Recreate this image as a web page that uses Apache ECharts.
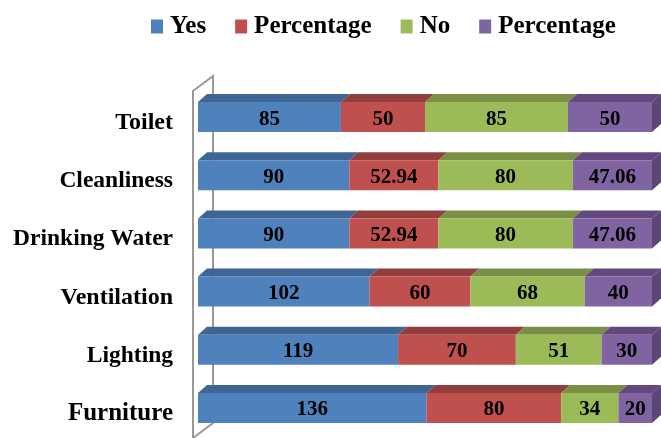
<!DOCTYPE html>
<html>
<head>
<meta charset="utf-8">
<title>Facilities</title>
<script src="https://cdn.jsdelivr.net/npm/echarts@6/dist/echarts.min.js"></script>
<style>
  html, body { margin: 0; padding: 0; background: #fff; }
  #chart { width: 661px; height: 438px; }
</style>
</head>
<body>
<div id="chart"></div>
<script>
const categories = ['Toilet', 'Cleanliness', 'Drinking Water', 'Ventilation', 'Lighting', 'Furniture'];
const yesValues = [85, 90, 90, 102, 119, 136];
const yesPercent = [50, 52.94, 52.94, 60, 70, 80];
const noValues = [85, 80, 80, 68, 51, 34];
const noPercent = [50, 47.06, 47.06, 40, 30, 20];
const labelSizes = [24, 23.5, 23.5, 24, 23.5, 25];

const fontFamily = '"Liberation Serif", serif';
// bar depth, like the old excel 3d bars
const depthX = 9;
const depthY = 8;

const chart = echarts.init(document.getElementById('chart'));

const stack = [yesValues, yesPercent, noValues, noPercent];
const names = ['Yes', 'Percentage', 'No', 'Percentage '];
const fronts = ['#4F81BD', '#C0504D', '#9BBB59', '#8064A2'];
const tops = ['#3F6594', '#913E3C', '#788F45', '#62487E'];

const renderBar = (topColor, frontColor, isLast) => (params, api) => {
  const start = api.coord([api.value(1), api.value(0)]);
  const end = api.coord([api.value(2), api.value(0)]);
  const x0 = start[0];
  const x1 = end[0];
  const y0 = start[1] - 21;
  const y1 = start[1] + 9;
  const children = [
    {
      type: 'polygon',
      shape: { points: [[x0, y0], [x1, y0], [x1 + depthX, y0 - depthY], [x0 + depthX, y0 - depthY]] },
      style: { fill: topColor }
    },
    {
      type: 'rect',
      shape: { x: x0, y: y0, width: x1 - x0, height: y1 - y0 },
      style: { fill: frontColor }
    },
    {
      type: 'text',
      x: (x0 + x1) / 2,
      y: (y0 + y1) / 2 + 2,
      style: {
        text: String(api.value(3)),
        align: 'center',
        verticalAlign: 'middle',
        fill: '#000',
        font: 'bold 21px ' + fontFamily
      }
    }
  ];
  if (isLast) {
    children.push({
      type: 'polygon',
      shape: { points: [[x1, y0], [x1 + depthX, y0 - depthY], [x1 + depthX, y1 - depthY], [x1, y1]] },
      style: { fill: '#5C4776' }
    });
  }
  return { type: 'group', children };
};

const series = stack.map((values, s) => ({
  name: names[s],
  type: 'custom',
  itemStyle: { color: fronts[s] },
  encode: { x: [1, 2], y: 0 },
  renderItem: renderBar(tops[s], fronts[s], s === stack.length - 1),
  data: values.map((v, i) => {
    let from = 0;
    for (let k = 0; k < s; k++) {
      from += stack[k][i];
    }
    return [i, from, from + v, v];
  })
}));

chart.setOption({
  animation: false,
  backgroundColor: '#fff',
  legend: {
    left: 146,
    top: 9,
    icon: 'rect',
    itemWidth: 12,
    itemHeight: 14,
    itemGap: 29,
    textStyle: { fontFamily, fontWeight: 'bold', fontSize: 25, color: '#000', padding: [0, 0, 0, 2] },
    data: names
  },
  grid: { left: 198, top: 94, width: 454, height: 349, outerBoundsMode: 'none' },
  xAxis: { type: 'value', min: 0, max: 270, show: false },
  yAxis: {
    type: 'category',
    inverse: true,
    data: categories.map((name, i) => ({
      value: name,
      textStyle: { fontSize: labelSizes[i] }
    })),
    axisLine: { show: false },
    axisTick: { show: false },
    splitLine: { show: false },
    axisLabel: { margin: 25, interval: 0, color: '#000', fontFamily, fontWeight: 'bold' }
  },
  graphic: [
    {
      type: 'polyline',
      z: 0,
      shape: { points: [[193, 438], [193, 91], [213, 76], [213, 423], [193, 438]] },
      style: { stroke: '#999999', lineWidth: 2, fill: null }
    }
  ],
  series
});
</script>
</body>
</html>
